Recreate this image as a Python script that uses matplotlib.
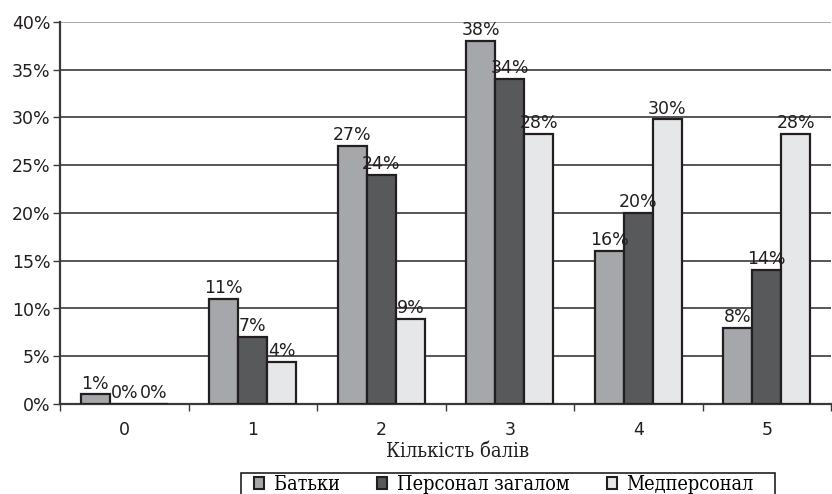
import matplotlib
matplotlib.use("Agg")
import matplotlib.pyplot as plt
from matplotlib.patches import Rectangle
import numpy as np

categories = ["0", "1", "2", "3", "4", "5"]
series_names = ["Батьки", "Персонал загалом", "Медперсонал"]
batky = [1, 11, 27, 38, 16, 8]
personal = [0, 7, 24, 34, 20, 14]
medpersonal = [0, 4.4, 8.9, 28.3, 29.8, 28.3]
yticks = [0, 5, 10, 15, 20, 25, 30, 35, 40]
xlabel = "Кількість балів"

colors = ["#a6a7aa", "#58595b", "#e6e7e8"]

fig = plt.figure(figsize=(8.32, 4.94), dpi=100)
ax = fig.add_axes([60/832, 1-404/494, (831-60)/832, (404-22)/494])

x = np.arange(len(categories))
w = 0.226
for i, (vals, c, name) in enumerate(zip([batky, personal, medpersonal], colors, series_names)):
    pos = x + (i - 1) * w
    ax.bar(pos, vals, width=w, color=c, edgecolor="#231f20", linewidth=1.6, label=name, zorder=3)
    for px, v in zip(pos, vals):
        ax.text(px, v + 0.2, f"{v:.0f}%", ha="center", va="bottom", fontsize=12.5,
                color="#231f20", zorder=4)

ax.set_xlim(-0.5, 5.5)
ax.set_ylim(0, 40)
ax.set_yticks(yticks)
ax.set_yticklabels([f"{t}%" for t in yticks], fontsize=12.5, color="#231f20")
for t in yticks[1:]:
    ax.axhline(t, color="#999999" if t == 40 else "#3a3a3a", linewidth=1.2, zorder=1)
ax.set_xticks(x)
ax.set_xticklabels(categories, fontsize=12.5, color="#231f20")
ax.set_xticks(np.arange(-0.5, 6, 1), minor=True)
ax.tick_params(axis="x", which="major", length=0, pad=12)
ax.tick_params(axis="x", which="minor", length=5, width=1, color="#3a3a3a")
ax.tick_params(axis="y", length=5, width=1, color="#3a3a3a", pad=2)
for s in ["top", "right"]:
    ax.spines[s].set_visible(False)
ax.spines["left"].set_color("#3a3a3a")
ax.spines["left"].set_linewidth(1.6)
ax.spines["bottom"].set_color("#3a3a3a")
ax.spines["bottom"].set_linewidth(1.6)

ax.set_xlabel(xlabel, family="DejaVu Serif", fontstretch="condensed", fontsize=14.5,
              color="#231f20")
ax.xaxis.set_label_coords((458-60)/771, -0.1)

leg = fig.legend(loc="upper left", bbox_to_anchor=(254/832, 1-475/494), ncol=3,
                 prop={"family": "DejaVu Serif", "stretch": "condensed", "size": 14.2},
                 frameon=False,
                 handlelength=0.5, handleheight=0.5, handletextpad=0.5,
                 columnspacing=1.9, borderpad=0, borderaxespad=0)
for h in leg.legend_handles:
    h.set_linewidth(1.5)
    h.set_edgecolor("#231f20")

fig.patches.append(Rectangle((241/832, -6/494), (775-241)/832, (494+6-473)/494,
                             transform=fig.transFigure, fill=False,
                             edgecolor="#231f20", linewidth=1.2))

fig.savefig("out.png", dpi=100)
